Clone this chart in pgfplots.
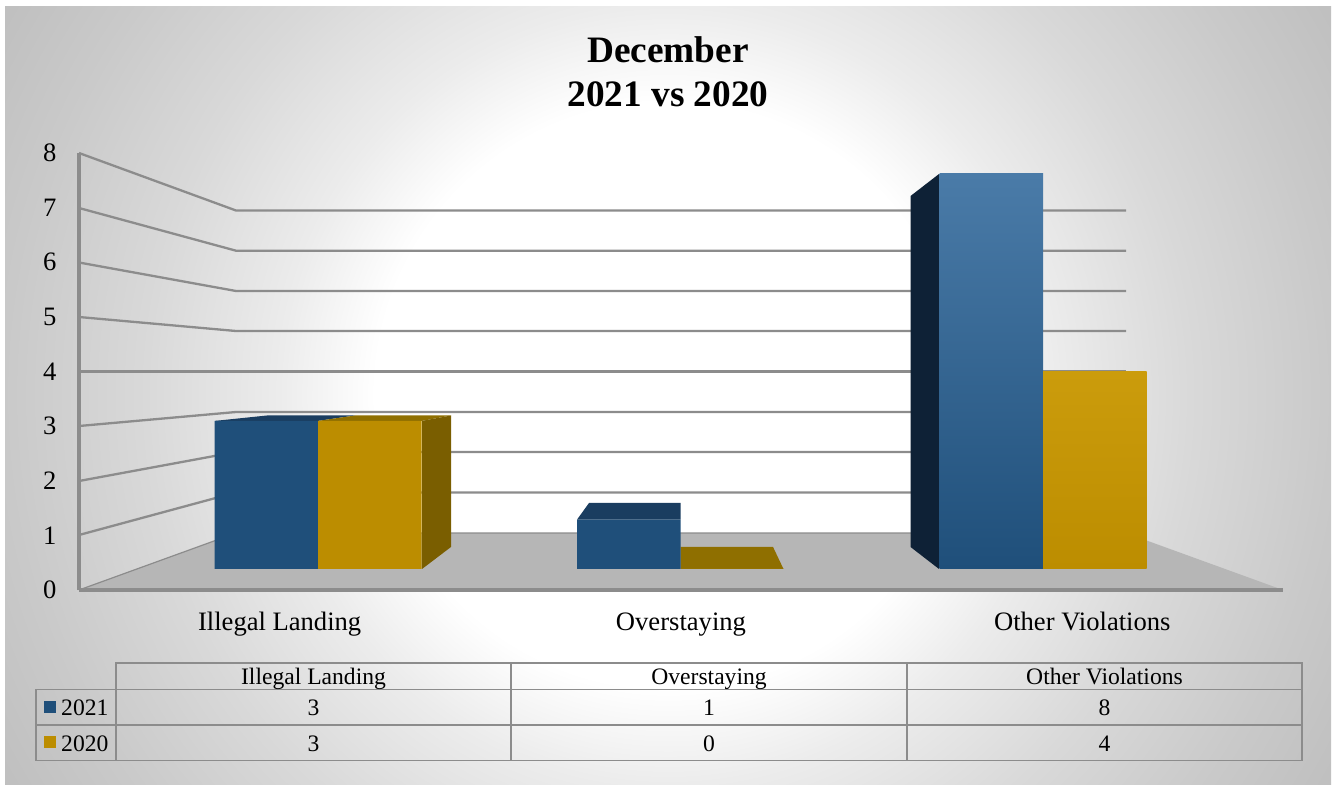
\documentclass[border=0pt]{standalone}
\usepackage{fontspec}
\setmainfont{Liberation Serif}
\usepackage{pgfplots}
\pgfplotsset{compat=1.18}
\definecolor{gridg}{HTML}{8C8C8C}
\definecolor{floorg}{HTML}{B6B6B6}
\definecolor{blueF}{HTML}{1F4F7A}
\definecolor{blueT}{HTML}{4A7BA8}
\definecolor{blueTop}{HTML}{1A3D60}
\definecolor{blueS}{HTML}{0E2136}
\definecolor{goldF}{HTML}{BC8D00}
\definecolor{goldT}{HTML}{CB9C0C}
\definecolor{goldTop}{HTML}{8F6F00}
\definecolor{goldS}{HTML}{7A5E00}
\pgfdeclareradialshading{bgshade}{\pgfpoint{0bp}{0bp}}{%
  rgb(0bp)=(1,1,1); rgb(9.5bp)=(1,1,1); rgb(12.65bp)=(0.925,0.925,0.925);
  rgb(17bp)=(0.85,0.85,0.85); rgb(21.45bp)=(0.79,0.79,0.79); rgb(25bp)=(0.75,0.75,0.75); rgb(50bp)=(0.75,0.75,0.75)}
\newcommand{\fs}[1]{\fontsize{#1}{#1}\selectfont}
\pgfplotsset{page/.style={anchor=south west,at={(0pt,0pt)},width=1333pt,height=785pt,
  scale only axis,hide axis,clip=true}}
\tikzset{tab/.style={font=\fs{23.6},anchor=base,inner sep=0pt},
  tabl/.style={font=\fs{23.6},anchor=base west,inner sep=0pt}}
\begin{document}
\begin{tikzpicture}
\useasboundingbox (0pt,0pt) rectangle (1333pt,785pt);
\fill[white] (0pt,0pt) rectangle (1333pt,785pt);
\begin{scope}
\clip (5pt,1pt) rectangle (1331pt,778pt);
\shade[shading=bgshade] (-102pt,-380pt) rectangle (1438pt,1160pt);
\end{scope}
% walls and floor, in picture coordinates
\begin{axis}[page,xmin=0,xmax=1333,ymin=0,ymax=785,y dir=reverse]
\addplot[fill=floorg,draw=none] coordinates {(79,590)(236,533)(1126,533)(1283,590)} -- cycle;
\addplot[gridg,line width=1.2pt] coordinates {(79,590)(236,533)(1126,533)};
\addplot[gridg,line width=2.3pt] coordinates {(79,153)(236,210.5)(1126,210.5)};
\addplot[gridg,line width=2.3pt] coordinates {(79,208)(236,250.7)(1126,250.7)};
\addplot[gridg,line width=2.3pt] coordinates {(79,262.5)(236,291)(1126,291)};
\addplot[gridg,line width=2.3pt] coordinates {(79,317)(236,331)(1126,331)};
\addplot[gridg,line width=2.3pt] coordinates {(79,371.5)(236,371.5)(1126,371.5)};
\addplot[gridg,line width=2.3pt] coordinates {(79,426)(236,412)(1126,412)};
\addplot[gridg,line width=2.3pt] coordinates {(79,481)(236,452)(1126,452)};
\addplot[gridg,line width=2.3pt] coordinates {(79,535)(236,492.5)(1126,492.5)};
\node[font=\fs{37.3}\bfseries,anchor=base] at (axis cs:668,62) {December};
\node[font=\fs{37.3}\bfseries,anchor=base] at (axis cs:668,106) {2021 vs 2020};
% data table
\draw[gridg,line width=1.6pt] (axis cs:116,663) rectangle (axis cs:1302,760.5);
\draw[gridg,line width=1.6pt] (axis cs:36,689.5) rectangle (axis cs:116,760.5);
\draw[gridg,line width=1.6pt] (axis cs:36,689.5) -- (axis cs:1302,689.5);
\draw[gridg,line width=1.6pt] (axis cs:36,725) -- (axis cs:1302,725);
\draw[gridg,line width=1.6pt] (axis cs:511,663) -- (axis cs:511,760.5);
\draw[gridg,line width=1.6pt] (axis cs:907,663) -- (axis cs:907,760.5);
\fill[blueF] (axis cs:44,701) rectangle (axis cs:56,713);
\fill[goldF] (axis cs:44,736) rectangle (axis cs:56,748);
\node[tabl] at (axis cs:61,715) {2021};
\node[tabl] at (axis cs:61,751) {2020};
\node[tab] at (axis cs:313.5,684) {Illegal Landing};
\node[tab] at (axis cs:709,684) {Overstaying};
\node[tab] at (axis cs:1104.5,684) {Other Violations};
\node[tab] at (axis cs:313.5,715) {3};
\node[tab] at (axis cs:709,715) {1};
\node[tab] at (axis cs:1104.5,715) {8};
\node[tab] at (axis cs:313.5,751) {3};
\node[tab] at (axis cs:709,751) {0};
\node[tab] at (axis cs:1104.5,751) {4};
\end{axis}
% value axis and category axis
\begin{axis}[anchor=south west,at={(79pt,195pt)},width=1204pt,height=437pt,scale only axis,
  xmin=-0.5,xmax=2.5,ymin=0,ymax=8,
  axis x line*=bottom,axis y line*=left,
  axis line style={gridg,line width=3.5pt,-},
  major tick length=0pt,
  xtick={0,1,2},xticklabels={Illegal Landing,Overstaying,Other Violations},
  ytick={0,1,2,3,4,5,6,7,8},
  /pgf/number format/assume math mode=true,
  tick label style={font=\fs{26.6},text=black},
  yticklabel style={xshift=-19pt},
  xticklabel style={yshift=-19pt}]
\addplot[draw=none] coordinates {(0,0)};
\end{axis}
% bars: x in categories, y in values, on the front plane of the 3-D box
\begin{axis}[page,xmin=-0.87724,xmax=2.8,ymin=-4.3747,ymax=11.5241]
% Illegal Landing
\addplot[fill=blueTop,draw=none] coordinates {(-0.2841,3)(-0.1407,3.109)(0.1021,3.109)(0,3)} -- cycle;
\addplot[fill=goldTop,draw=none] coordinates {(0,3)(0.1021,3.109)(0.3669,3.109)(0.2869,3)} -- cycle;
\addplot[fill=goldS,draw=none] coordinates {(0.2869,3)(0.3669,3.109)(0.3669,0.446)(0.2869,0)} -- cycle;
% Overstaying
\addplot[fill=blueTop,draw=none] coordinates {(0.7145,1)(0.7476,1.337)(1,1.337)(1,1)} -- cycle;
\addplot[fill=goldTop,draw=none] coordinates {(1,0)(1.2841,0)(1.2552,0.446)(1,0.446)} -- cycle;
% Other Violations
\addplot[fill=blueS,draw=none] coordinates {(1.7131,8)(1.6345,7.554)(1.6345,0.446)(1.7131,0)} -- cycle;
% fronts
\addplot[ybar,bar width=103.5pt,bar shift=-51.75pt,fill=blueF,draw=none] coordinates {(0,3)(1,1)};
\addplot[ybar,bar width=103.5pt,bar shift=-51.75pt,top color=blueT,bottom color=blueF,draw=none] coordinates {(2,8)};
\addplot[ybar,bar width=103.5pt,bar shift=51.75pt,fill=goldF,draw=none] coordinates {(0,3)(1,0)};
\addplot[ybar,bar width=103.5pt,bar shift=51.75pt,top color=goldT,bottom color=goldF,draw=none] coordinates {(2,4)};
\end{axis}
\end{tikzpicture}
\end{document}
